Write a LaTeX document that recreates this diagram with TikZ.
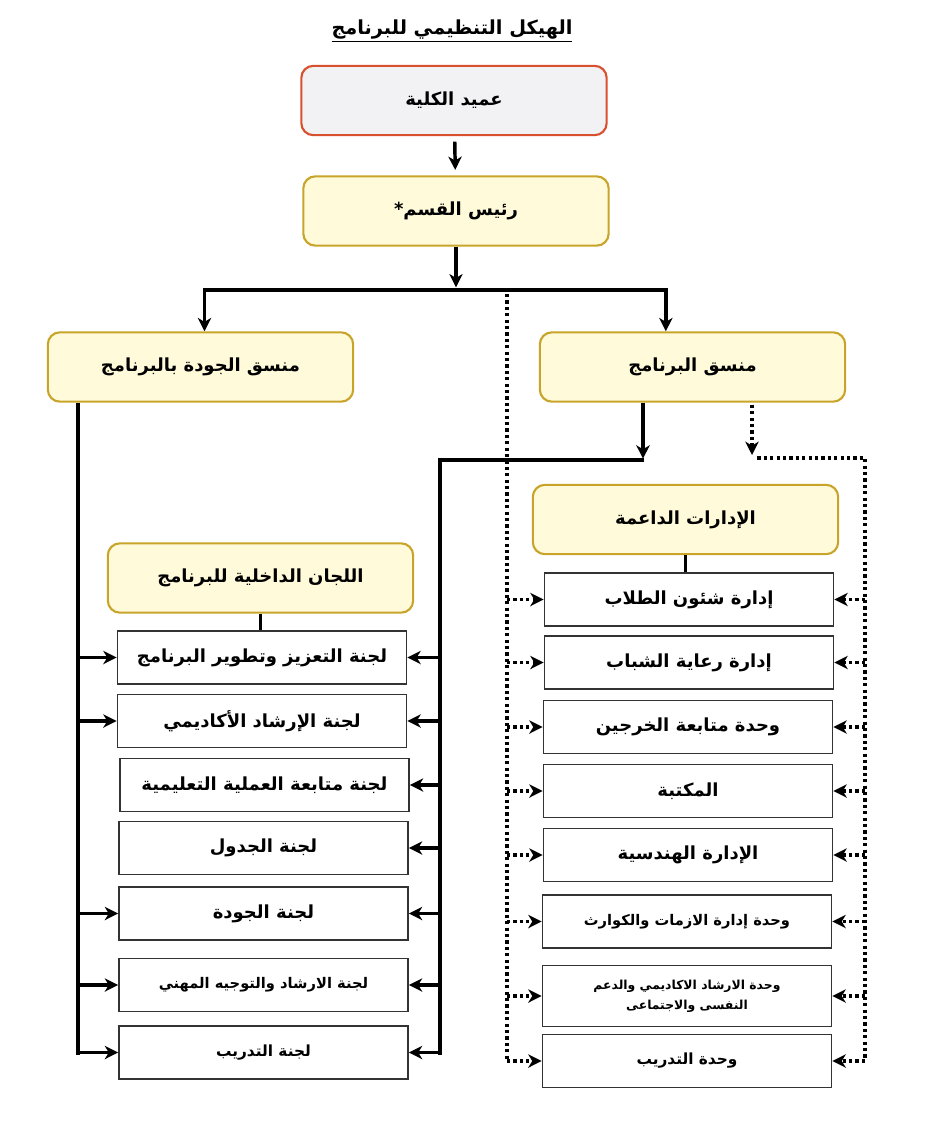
\documentclass[tikz,border=0pt]{standalone}
\usepackage{fontspec}
\newfontfamily\arabicfont[Script=Arabic]{DejaVu Sans}
\TeXXeTstate=1
\usetikzlibrary{positioning}
\usetikzlibrary{arrows.meta}
\definecolor{deanfill}{HTML}{F2F2F4}
\definecolor{deanline}{HTML}{D9502E}
\definecolor{headfill}{HTML}{FFFBDA}
\definecolor{headline}{HTML}{C8A42A}
\newcommand{\artext}[1]{\beginR #1\endR}
\tikzset{
    chief/.style = {rectangle, rounded corners=9pt, line width=1.6pt, draw=deanline, fill=deanfill,
                    minimum width=229pt, minimum height=52pt, font=\arabicfont\bfseries\fontsize{13.5}{15}\selectfont},
    mynodey/.style = {rectangle, rounded corners=9pt, line width=1.6pt, draw=headline, fill=headfill,
                    minimum width=229pt, minimum height=52pt, font=\arabicfont\bfseries\fontsize{13.5}{15}\selectfont},
    cell/.style = {rectangle, line width=1.1pt, draw=black!80, fill=white, minimum width=217pt,
                   minimum height=40pt, align=center, font=\arabicfont\bfseries\fontsize{13.5}{15}\selectfont},
    cellsm/.style = {cell, font=\arabicfont\bfseries\fontsize{11}{14}\selectfont},
    linen/.style = {line width=2.6pt, black},
    edgen/.style = {-{Stealth[length=10pt,width=10pt,inset=3pt]}, line width=2.6pt, black},
    dotline/.style = {line width=2.6pt, dash pattern=on 2.4pt off 2.4pt},
    edgevd/.style = {-{Stealth[length=10pt,width=10pt,inset=3pt]}, dotline} % dotted link
}

\begin{document}
\begin{tikzpicture}[x=0.75pt, y=-0.75pt]
  \useasboundingbox (0,0) rectangle (929,1124);

  % title
  \node (title) at (452,31) {\arabicfont\bfseries\fontsize{14.5}{16}\selectfont\underline{\artext{الهيكل التنظيمي للبرنامج}}};

  % top of the chart
  \node[chief] (dean) at (454,100.5) {\artext{عميد الكلية}};
  \node[mynodey] (head) at (456,211) {\artext{رئيس القسم*}};
  \node[mynodey] (qcoord) at (200.5,367) {\artext{منسق الجودة بالبرنامج}};
  \node[mynodey] (pcoord) at (692.5,367) {\artext{منسق البرنامج}};
  \node[mynodey] (committees) at (260.5,578) {\artext{اللجان الداخلية للبرنامج}};
  \node[mynodey] (support) at (685.5,519.5) {\artext{الإدارات الداعمة}};

  % committees
  \node[cell] (c1) at (262,657.5) {\artext{لجنة التعزيز وتطوير البرنامج}};
  \node[cell] (c2) at (262,721) {\artext{لجنة الإرشاد الأكاديمي}};
  \node[cell] (c3) at (264.5,785) {\artext{لجنة متابعة العملية التعليمية}};
  \node[cell] (c4) at (263.5,848) {\artext{لجنة الجدول}};
  \node[cell] (c5) at (263.5,913.5) {\artext{لجنة الجودة}};
  \node[cellsm] (c6) at (263.5,985) {\artext{لجنة الارشاد والتوجيه المهني}};
  \node[cellsm, font=\arabicfont\bfseries\fontsize{11.5}{14}\selectfont] (c7) at (263.5,1052.5) {\artext{لجنة التدريب}};

  % supporting units
  \node[cell] (u1) at (689,599.5) {\artext{إدارة شئون الطلاب}};
  \node[cell] (u2) at (689,662.5) {\artext{إدارة رعاية الشباب}};
  \node[cell] (u3) at (688,727) {\artext{وحدة متابعة الخرجين}};
  \node[cell] (u4) at (688,791) {\artext{المكتبة}};
  \node[cell] (u5) at (688,855) {\artext{الإدارة الهندسية}};
  \node[cellsm] (u6) at (687,921.5) {\artext{وحدة إدارة الازمات والكوارث}};
  \node[cellsm, minimum height=46pt, font=\arabicfont\bfseries\fontsize{9.3}{15}\selectfont] (u7) at (687,996) {\artext{وحدة الارشاد الاكاديمي والدعم}\\\artext{النفسى والاجتماعى}};
  \node[cellsm, font=\arabicfont\bfseries\fontsize{11.5}{14}\selectfont] (u8) at (687,1061) {\artext{وحدة التدريب}};

  % bus points
  \coordinate (hsplit) at (456,290);
  \coordinate (lbus) at (78,1055);
  \coordinate (pjoin) at (643,460);
  \coordinate (rtop) at (440,460);
  \coordinate (rbus) at (440,1055);
  \coordinate (dtop) at (507,294);
  \coordinate (dbot) at (507,1060);
  \coordinate (dnote) at (752,455);
  \coordinate (rdtop) at (865,458);
  \coordinate (rdbot) at (865,1060);

  % solid links
  \draw[edgen, shorten <=4pt, shorten >=4pt] (dean) -- (head);
  \draw[edgen, shorten >=2pt] (head) -- (hsplit);
  \draw[edgen] (hsplit) -| ([xshift=3pt]qcoord.north);
  \draw[edgen] (hsplit) -| ([xshift=-20pt]pcoord.north);
  \draw[linen] (qcoord.south west -| lbus) -- (lbus);
  \foreach \i in {1,2,5,6,7}
    \draw[edgen] (lbus |- c\i.west) -- (c\i.west);
  \draw[edgen, shorten >=1pt] (pcoord.south -| pjoin) -- (pjoin);
  \draw[linen] ([xshift=1pt]pjoin) -- (rtop) -- (rbus);
  \foreach \i in {1,...,7}
    \draw[edgen] (rbus |- c\i.east) -- (c\i.east);
  \draw[linen] (committees.south) -- (committees.south |- c1.north);
  \draw[linen] (support.south) -- (support.south |- u1.north);

  % dotted links
  \draw[dotline] (dtop) -- (dbot);
  \foreach \i in {1,...,8}
    \draw[edgevd] (dtop |- u\i.west) -- (u\i.west);
  \draw[edgevd] ([yshift=-1.5pt]pcoord.south -| dnote) -- (dnote);
  \draw[dotline] ([xshift=4pt]dnote |- rdtop) -- (rdtop) -- (rdbot);
  \foreach \i in {1,...,8}
    \draw[edgevd] (rdtop |- u\i.east) -- (u\i.east);

\end{tikzpicture}
\end{document}
